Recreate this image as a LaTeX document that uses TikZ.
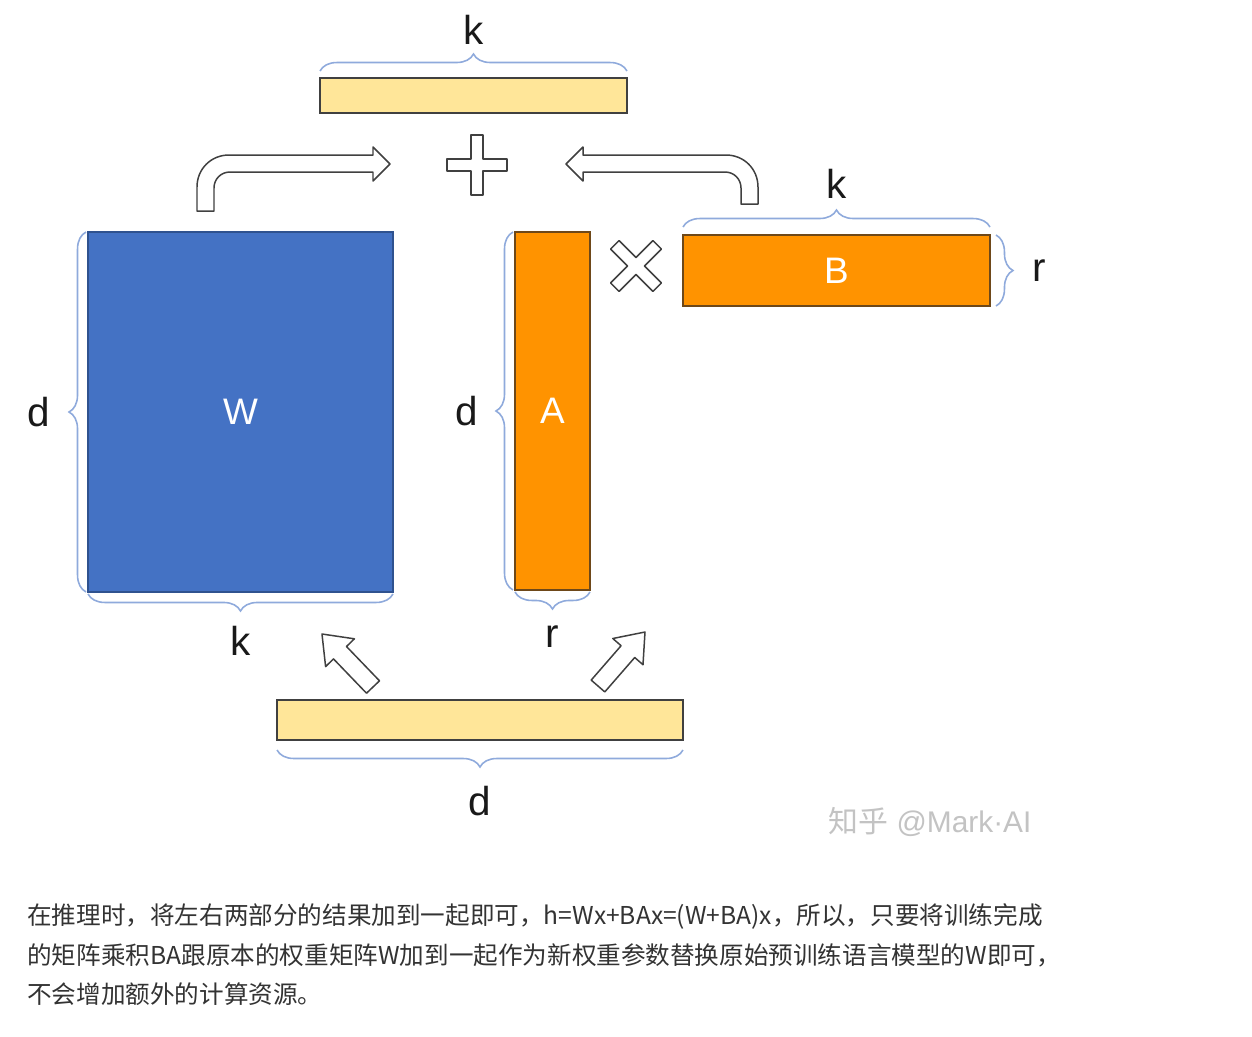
\documentclass[tikz,border=0pt]{standalone}
\usepackage{fontspec}
\setmainfont{Liberation Sans}
\newfontfamily\cjkfont{Noto Sans CJK SC}
\usepackage{tikz}
\usetikzlibrary{calc,positioning,decorations.pathreplacing}
\definecolor{wblue}{RGB}{68,114,196}
\definecolor{wborder}{RGB}{47,82,143}
\definecolor{loraorange}{RGB}{255,147,0}
\definecolor{loraborder}{RGB}{110,72,25}
\definecolor{vecyellow}{RGB}{255,230,153}
\definecolor{bracecolor}{RGB}{143,170,220}
\definecolor{outline}{RGB}{64,64,64}
\definecolor{bodytext}{RGB}{51,51,51}
\definecolor{markgray}{RGB}{195,195,195}
\tikzstyle{matrixbox}=[
  draw,
  font={\fontsize{21}{24}\selectfont},
  inner sep=0pt,
  line width=1pt,
  outer sep=0pt,
  rectangle,
  text=white,
]
\tikzstyle{weight}=[
  matrixbox,
  draw=wborder,
  fill=wblue,
  minimum height=7.2cm,
  minimum width=6.1cm,
]
\tikzstyle{lora}=[
  matrixbox,
  draw=loraborder,
  fill=loraorange,
]
\tikzstyle{vector}=[
  matrixbox,
  draw=outline,
  fill=vecyellow,
]
\tikzstyle{brace}=[
  decorate,
  decoration={brace, amplitude=0.34cm},
  draw=bracecolor,
  line width=0.9pt,
]
\tikzstyle{dimlabel}=[
  font={\fontsize{23}{26}\selectfont},
  inner sep=0pt,
  text=black!90,
]
\tikzstyle{blockarrow}=[
  draw=outline,
  fill=white,
  line join=round,
  line width=0.85pt,
]
\tikzstyle{bodyline}=[
  anchor=west,
  font={\cjkfont\fontsize{14}{18}\selectfont},
  inner sep=0pt,
  text=bodytext,
]
\tikzset{
  x=0.02cm,
  y=-0.02cm,
  crosssign/.pic={
    \draw [blockarrow] (-6,-30) -- (6,-30) -- (6,-6) -- (30,-6) -- (30,6)
      -- (6,6) -- (6,30) -- (-6,30) -- (-6,6) -- (-30,6) -- (-30,-6)
      -- (-6,-6) -- cycle;
  },
}
\begin{document}
\begin{tikzpicture}
      \useasboundingbox [fill=white] (0,0) rectangle (1252,1036);
      %% matrices
      \node (topbar) [vector, minimum width=6.14cm, minimum height=0.7cm] at (473.5,95.5) {};
      \node (W) [weight] at (240.5,412) {W};
      \node (A) [lora, minimum width=1.5cm, minimum height=7.16cm] at (552.5,411) {A};
      \node (B) [lora, minimum width=6.14cm, minimum height=1.42cm] at (836.5,270.5) {B};
      \node (botbar) [vector, minimum width=8.12cm, minimum height=0.8cm] at (480,720) {};
      %% braces
      \draw [brace] ([yshift=0.14cm]topbar.north west) -- ([yshift=0.14cm]topbar.north east);
      \draw [brace] ([yshift=0.16cm]B.north west) -- ([yshift=0.16cm]B.north east);
      \draw [brace] ([xshift=0.12cm]B.north east) -- ([xshift=0.12cm]B.south east);
      \draw [brace] ([xshift=-0.04cm]W.south west) -- ([xshift=-0.04cm]W.north west);
      \draw [brace] ([yshift=-0.04cm]W.south east) -- ([yshift=-0.04cm]W.south west);
      \draw [brace] ([xshift=-0.04cm]A.south west) -- ([xshift=-0.04cm]A.north west);
      \draw [brace] ([yshift=-0.04cm]A.south east) -- ([yshift=-0.04cm]A.south west);
      \draw [brace] ([yshift=-0.2cm]botbar.south east) -- ([yshift=-0.2cm]botbar.south west);
      %% dimension labels
      \node (kTop) [dimlabel, above=0.66cm of topbar] {k};
      \node (kB) [dimlabel, above=0.72cm of B] {k};
      \node (rB) [dimlabel, right=0.84cm of B] {r};
      \node (dW) [dimlabel, left=0.76cm of W] {d};
      \node (kW) [dimlabel, below=0.68cm of W] {k};
      \node (dA) [dimlabel, left=0.74cm of A] {d};
      \node (rA) [dimlabel, below=0.7cm of A] {r};
      \node (dBot) [dimlabel, below=0.92cm of botbar] {d};
      %% operators
      \pic at (477,165) {crosssign};
      \pic [rotate=45] at (636,266) {crosssign};
      %% block arrows
      \draw [blockarrow] (197,211) -- (197,187) .. controls (197,169) and (211,155) .. (229,155)
      -- (373,155) -- (373,147) -- (390,164) -- (373,181) -- (373,172)
      -- (230,172) .. controls (221,172) and (214,179) .. (214,188) -- (214,211) -- cycle;
      \draw [blockarrow] (758,204) -- (758,187) .. controls (758,169) and (744,155) .. (726,155)
      -- (583,155) -- (583,147) -- (566,164) -- (583,181) -- (583,172)
      -- (725,172) .. controls (734,172) and (741,179) .. (741,188) -- (741,204) -- cycle;
      \draw [blockarrow] (379.5,680.8) -- (346.5,646.5) -- (354.4,638.8) -- (322,634)
      -- (325.6,666.6) -- (333.5,658.9) -- (366.5,693.2) -- cycle;
      \draw [blockarrow] (604.8,691.9) -- (634.7,657.5) -- (643,664.7) -- (645,632)
      -- (612.8,638.5) -- (621.1,645.7) -- (591.2,680.1) -- cycle;
      %% caption
      \node (mark) [font={\fontsize{17}{20}\selectfont}, text=markgray] at (930,822) {{\cjkfont 知乎} @Mark·AI};
      \node (line1) [bodyline] at (27,916) {在推理时，将左右两部分的结果加到一起即可，h=Wx+BAx=(W+BA)x，所以，只要将训练完成};
      \node (line2) [bodyline] at (27,955) {的矩阵乘积BA跟原本的权重矩阵W加到一起作为新权重参数替换原始预训练语言模型的W即可，};
      \node (line3) [bodyline] at (27,994) {不会增加额外的计算资源。};
    \end{tikzpicture}
\end{document}
